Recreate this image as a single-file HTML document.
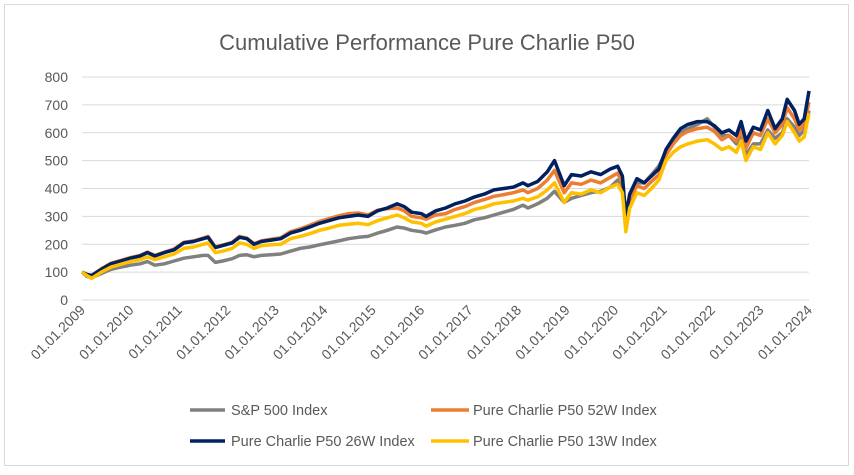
<!DOCTYPE html>
<html><head><meta charset="utf-8"><style>
html,body{margin:0;padding:0;background:#fff;}
svg{display:block;font-family:"Liberation Sans",sans-serif;}
</style></head><body>
<svg id="chart" width="854" height="475">
<rect x="4.5" y="4.5" width="844" height="461" fill="#fff" stroke="#d9d9d9"/>
<text x="427" y="50" text-anchor="middle" font-size="22" fill="#595959">Cumulative Performance Pure Charlie P50</text>
<g id="grid"></g><g id="yticks"></g><g id="xticks"></g><g id="series"></g>
<g>
<line x1="190" y1="410" x2="225" y2="410" stroke="#808080" stroke-width="3.5"/>
<text x="231" y="415" font-size="14.5" fill="#595959">S&amp;P 500 Index</text>
<line x1="431" y1="410" x2="469" y2="410" stroke="#ed7d31" stroke-width="3.5"/>
<text x="473" y="415" font-size="14.5" fill="#595959">Pure Charlie P50 52W Index</text>
<line x1="190" y1="441" x2="225" y2="441" stroke="#002060" stroke-width="3.5"/>
<text x="231" y="446" font-size="14.5" fill="#595959">Pure Charlie P50 26W Index</text>
<line x1="431" y1="441" x2="469" y2="441" stroke="#ffc000" stroke-width="3.5"/>
<text x="473" y="446" font-size="14.5" fill="#595959">Pure Charlie P50 13W Index</text>
</g>
</svg>
<script>
const dates=[2009.0,2009.1,2009.2,2009.4,2009.6,2009.8,2010.0,2010.2,2010.35,2010.5,2010.7,2010.9,2011.1,2011.3,2011.5,2011.6,2011.75,2011.9,2012.1,2012.25,2012.4,2012.55,2012.7,2012.9,2013.1,2013.3,2013.5,2013.7,2013.9,2014.1,2014.3,2014.5,2014.7,2014.9,2015.1,2015.3,2015.5,2015.65,2015.8,2016.0,2016.1,2016.3,2016.5,2016.7,2016.9,2017.1,2017.3,2017.5,2017.7,2017.9,2018.1,2018.2,2018.4,2018.6,2018.75,2018.95,2019.1,2019.3,2019.5,2019.7,2019.9,2020.05,2020.15,2020.22,2020.3,2020.45,2020.6,2020.75,2020.9,2021.05,2021.2,2021.35,2021.5,2021.7,2021.9,2022.05,2022.2,2022.35,2022.5,2022.6,2022.7,2022.85,2023.0,2023.15,2023.3,2023.45,2023.55,2023.7,2023.8,2023.9,2024.0];
const sp500=[100,85,80,95,110,118,125,130,138,125,130,140,150,155,160,160,135,140,148,160,162,155,160,162,165,175,185,190,198,205,212,220,225,228,240,250,262,258,250,245,240,252,262,268,275,288,295,305,315,325,340,330,345,365,390,350,365,375,385,390,405,430,410,270,350,420,420,450,480,530,570,600,615,630,650,620,590,590,560,600,520,560,560,610,580,600,650,620,590,610,680];
const w52=[100,92,88,112,132,142,152,160,172,160,172,183,207,212,222,228,190,197,207,228,222,202,212,218,223,245,255,268,282,292,302,310,312,305,322,328,330,320,300,295,290,305,310,325,335,350,360,372,378,385,395,385,400,430,465,385,420,415,430,420,440,455,420,285,360,410,400,425,450,520,560,590,605,615,620,605,575,590,570,610,545,600,590,650,600,630,690,650,610,630,710];
const w26=[100,92,88,110,130,140,150,158,170,158,170,180,205,210,220,225,188,195,205,225,220,200,210,215,220,240,250,262,275,285,295,300,305,300,320,330,345,335,315,310,300,320,330,345,355,370,380,395,400,405,420,410,425,460,500,410,450,445,460,450,470,480,445,300,380,435,420,445,470,540,580,615,630,640,640,625,600,610,590,640,570,620,610,680,615,650,720,680,630,650,750];
const w13=[100,88,78,100,118,128,138,145,155,145,155,165,185,190,200,205,170,175,185,205,200,185,195,198,200,220,228,238,250,258,268,272,275,270,285,295,305,295,280,275,265,280,290,300,310,325,333,345,350,355,365,358,370,395,420,350,385,380,395,385,405,415,385,245,330,385,375,400,430,500,530,550,560,570,575,560,540,550,530,570,500,550,540,600,560,590,640,600,570,585,670];
const yTicks=[0,100,200,300,400,500,600,700,800];
const xYears=[2009,2010,2011,2012,2013,2014,2015,2016,2017,2018,2019,2020,2021,2022,2023,2024];
const X0=82,X1=809,Y0=300,Y1=77;
const xs=v=>X0+(v-2009)/(2024-2009)*(X1-X0);
const ys=v=>Y0-(v/800)*(Y0-Y1);
const NS="http://www.w3.org/2000/svg";
const mk=(t,a,p)=>{const e=document.createElementNS(NS,t);for(const k in a)e.setAttribute(k,a[k]);p.appendChild(e);return e;};
const grid=document.getElementById('grid'),yt=document.getElementById('yticks'),xt=document.getElementById('xticks'),sg=document.getElementById('series');
yTicks.forEach(v=>{
  const l=mk('line',{x1:X0,x2:X1,y1:ys(v),y2:ys(v),stroke:'#d9d9d9','stroke-width':1},grid);
  
  
  const t=mk('text',{x:68,y:ys(v)+5,'text-anchor':'end','font-size':14,fill:'#595959'},yt);
  t.textContent=v;
  
  
});
xYears.forEach(y=>{
  const x=xs(y)+4,yy=311;
  const t=mk('text',{x:x,y:yy,'text-anchor':'end','font-size':14,fill:'#595959',transform:`rotate(-45 ${x} ${yy})`},xt);
  t.textContent='01.01.'+y;
  
  
});
const series=[[sp500,'#808080','sp500'],[w52,'#ed7d31','52w'],[w26,'#002060','26w'],[w13,'#ffc000','13w']];
series.forEach(([vals,c,n])=>{
  const pts=vals.map((v,i)=>xs(dates[i]).toFixed(1)+','+ys(v).toFixed(1)).join(' ');
  const p=mk('polyline',{points:pts,fill:'none',stroke:c,'stroke-width':3.5,'stroke-linejoin':'round'},sg);
  
  
});
</script>
</body></html>
